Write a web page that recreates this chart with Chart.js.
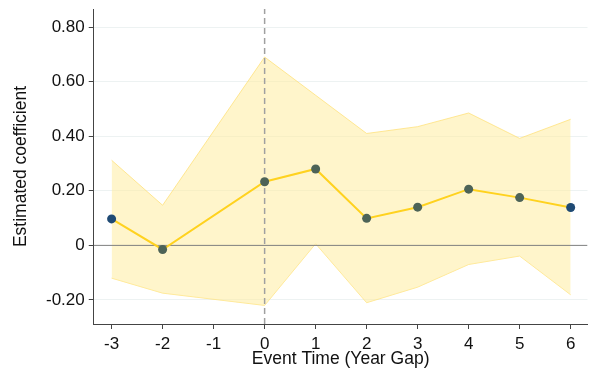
<!DOCTYPE html>
<html>
<head>
<meta charset="utf-8">
<script src="https://cdn.jsdelivr.net/npm/chart.js@4/dist/chart.umd.min.js"></script>
<style>
  html, body { margin: 0; padding: 0; background: #fff; }
  #wrap { width: 592px; height: 370px; }
</style>
</head>
<body>
<div id="wrap"><canvas id="c"></canvas></div>
<script>
// event study estimates
const eventTime = [-3, -2, 0, 1, 2, 3, 4, 5, 6];
const coef = [0.097, -0.015, 0.233, 0.280, 0.099, 0.140, 0.206, 0.175, 0.139];
const ciUpper = [0.312, 0.147, 0.690, 0.550, 0.410, 0.435, 0.485, 0.392, 0.462];
const ciLower = [-0.120, -0.175, -0.220, 0.006, -0.210, -0.153, -0.070, -0.039, -0.181];
const xTicks = [-3, -2, -1, 0, 1, 2, 3, 4, 5, 6];
const yTicks = [-0.2, 0, 0.2, 0.4, 0.6, 0.8];

const xMin = -3.35, xMax = 6.33;
const yMin = -0.288, yMax = 0.866;

const toPts = arr => arr.map((v, i) => ({ x: eventTime[i], y: v }));

const navy = '#1f4a74';
const slate = '#4d6357';
const pointColors = coef.map((v, i) => (i === 0 || i === coef.length - 1) ? navy : slate);

const family = "'Liberation Sans', Arial, sans-serif";
const tickFont = { family: family, size: 17 };
const titleFont = { family: family, size: 17.5 };

const ctx = document.getElementById('c').getContext('2d');
new Chart(ctx, {
    type: 'line',
    data: {
        datasets: [
            {
                label: 'CI lower',
                data: toPts(ciLower),
                borderColor: 'rgba(255, 222, 110, 0.7)',
                borderWidth: 1,
                pointRadius: 0,
                fill: false,
                order: 4
            },
            {
                label: 'CI upper',
                data: toPts(ciUpper),
                borderColor: 'rgba(255, 222, 110, 0.7)',
                backgroundColor: 'rgba(255, 236, 160, 0.55)',
                borderWidth: 1,
                pointRadius: 0,
                fill: '-1',
                order: 3
            },
            {
                label: 'zero',
                data: [{ x: xMin, y: 0 }, { x: xMax, y: 0 }],
                borderColor: '#808080',
                borderWidth: 1,
                pointRadius: 0,
                fill: false,
                order: 2
            },
            {
                label: 'event',
                data: [{ x: 0, y: yMin }, { x: 0, y: yMax }],
                borderColor: '#a0a0a0',
                borderWidth: 1.5,
                borderDash: [6, 4],
                pointRadius: 0,
                fill: false,
                order: 1
            },
            {
                label: 'Estimate',
                data: toPts(coef),
                borderColor: '#ffd21f',
                borderWidth: 2,
                pointRadius: 4.5,
                pointBackgroundColor: pointColors,
                pointBorderWidth: 0,
                fill: false,
                tension: 0,
                order: 0
            }
        ]
    },
    options: {
        responsive: true,
        maintainAspectRatio: false,
        animation: false,
        layout: {
            padding: { left: 11, right: 2, top: 9, bottom: 0 }
        },
        scales: {
            x: {
                type: 'linear',
                min: xMin,
                max: xMax,
                afterBuildTicks: axis => { axis.ticks = xTicks.map(v => ({ value: v })); },
                afterFit: axis => { axis.height = 46; },
                ticks: {
                    color: '#111',
                    font: tickFont,
                    padding: 5,
                    maxRotation: 0,
                    autoSkip: false
                },
                grid: {
                    drawOnChartArea: false,
                    tickLength: 5,
                    tickColor: '#444'
                },
                border: { display: true, color: '#444', width: 1 },
                title: {
                    display: true,
                    text: 'Event Time (Year Gap)',
                    color: '#111',
                    font: titleFont,
                    padding: { top: 0, bottom: 0 }
                }
            },
            y: {
                type: 'linear',
                min: yMin,
                max: yMax,
                afterBuildTicks: axis => { axis.ticks = yTicks.map(v => ({ value: v })); },
                afterFit: axis => { axis.paddingTop = 0; axis.paddingBottom = 0; },
                ticks: {
                    color: '#111',
                    font: tickFont,
                    padding: 4,
                    callback: v => Math.abs(v) < 1e-9 ? '0' : v.toFixed(2)
                },
                grid: {
                    color: '#edf2f2',
                    lineWidth: 1,
                    tickLength: 5,
                    tickColor: '#444'
                },
                border: { display: true, color: '#444', width: 1 },
                title: {
                    display: true,
                    text: 'Estimated coefficient',
                    color: '#111',
                    font: titleFont,
                    padding: { top: 0, bottom: 10 }
                }
            }
        },
        plugins: {
            legend: { display: false },
            tooltip: { enabled: false }
        }
    }
});
</script>
</body>
</html>
